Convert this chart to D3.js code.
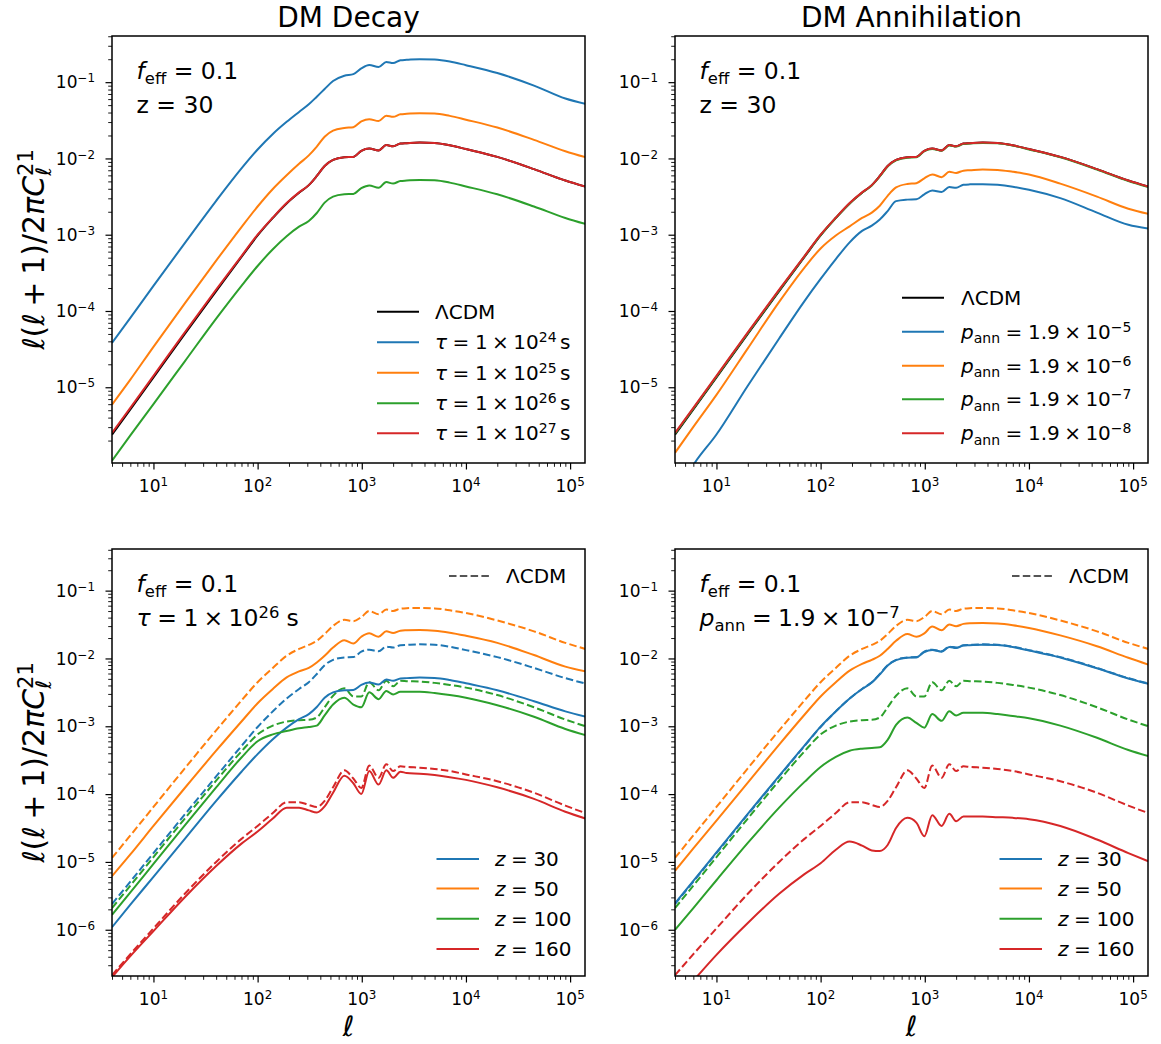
<!DOCTYPE html>
<html>
<head>
<meta charset="utf-8">
<script src="https://cdn.jsdelivr.net/npm/d3@7"></script>
<style>
  body { margin: 0; background: #fff; }
  text { font-family: "DejaVu Sans", sans-serif; fill: #000; }
</style>
</head>
<body>
<svg id="fig" width="1161" height="1044"></svg>
<script>
// multipoles shared by every curve
var ell = [4, 6, 10, 20, 40, 70, 100, 140, 190, 250, 310, 370, 440, 530, 680, 830, 990,
           1180, 1450, 1720, 2000, 2350, 2700, 3600, 5000, 7000, 10000, 20000, 45000, 90000, 140000];

// log10 of l(l+1)C_l/2pi
var lcdmZ30 = [-5.62, -5.29, -4.87, -4.30, -3.74, -3.29, -3.01, -2.78, -2.59, -2.45, -2.35, -2.23, -2.10, -2.02, -1.985, -1.98, -1.90,
               -1.87, -1.895, -1.825, -1.84, -1.805, -1.80, -1.792, -1.797, -1.827, -1.877, -1.98, -2.14, -2.29, -2.37];
var lcdmZ50 = [-4.94, -4.61, -4.19, -3.62, -3.06, -2.62, -2.35, -2.14, -1.96, -1.86, -1.80, -1.74, -1.64, -1.52, -1.43, -1.45, -1.39,
               -1.30, -1.35, -1.28, -1.30, -1.265, -1.258, -1.255, -1.262, -1.29, -1.33, -1.44, -1.60, -1.77, -1.86];
var lcdmZ100 = [-5.68, -5.35, -4.93, -4.36, -3.80, -3.37, -3.12, -2.99, -2.93, -2.91, -2.905, -2.87, -2.72, -2.55, -2.44, -2.56, -2.56,
                -2.35, -2.47, -2.33, -2.41, -2.33, -2.335, -2.34, -2.36, -2.39, -2.43, -2.54, -2.72, -2.90, -3.0];
var lcdmZ160 = [-6.67, -6.36, -5.98, -5.47, -5.00, -4.66, -4.47, -4.28, -4.12, -4.12, -4.16, -4.19, -4.10, -3.90, -3.65, -3.77, -3.91,
                -3.58, -3.76, -3.56, -3.66, -3.59, -3.60, -3.61, -3.63, -3.66, -3.71, -3.81, -3.98, -4.17, -4.28];

var decayTau24Z30 = [-4.42, -4.09, -3.67, -3.11, -2.556, -2.131, -1.883, -1.679, -1.52, -1.39, -1.29, -1.19, -1.09, -0.985, -0.915, -0.895, -0.82,
                     -0.775, -0.80, -0.735, -0.75, -0.712, -0.707, -0.698, -0.703, -0.729, -0.777, -0.88, -1.045, -1.215, -1.284];
var decayTau25Z30 = [-5.227, -4.90, -4.47, -3.90, -3.34, -2.90, -2.63, -2.40, -2.22, -2.07, -1.96, -1.844, -1.715, -1.635, -1.60, -1.59, -1.515,
                     -1.485, -1.51, -1.44, -1.455, -1.42, -1.415, -1.407, -1.41, -1.442, -1.492, -1.595, -1.756, -1.905, -1.983];
var decayTau26Z30 = [-5.963, -5.63, -5.22, -4.66, -4.10, -3.67, -3.41, -3.19, -3.02, -2.895, -2.82, -2.715, -2.58, -2.50, -2.47, -2.465, -2.39,
                     -2.355, -2.385, -2.31, -2.33, -2.295, -2.29, -2.282, -2.287, -2.317, -2.367, -2.47, -2.63, -2.78, -2.858];
var decayTau27Z30 = [-5.60, -5.27, -4.85, -4.28, -3.72, -3.28, -3.0, -2.775, -2.585, -2.445, -2.35, -2.23, -2.10, -2.02, -1.985, -1.98, -1.90,
                     -1.87, -1.895, -1.825, -1.84, -1.805, -1.80, -1.792, -1.797, -1.827, -1.877, -1.98, -2.14, -2.29, -2.37];
var decayTau26Z50 = [-5.21, -4.89, -4.47, -3.91, -3.36, -2.93, -2.66, -2.45, -2.28, -2.19, -2.14, -2.06, -1.96, -1.84, -1.73, -1.78, -1.68,
                     -1.63, -1.68, -1.60, -1.625, -1.59, -1.585, -1.58, -1.59, -1.62, -1.665, -1.77, -1.95, -2.12, -2.19];
var decayTau26Z100 = [-5.78, -5.45, -5.03, -4.46, -3.90, -3.46, -3.22, -3.12, -3.07, -3.03, -3.01, -2.99, -2.84, -2.68, -2.58, -2.68, -2.72,
                      -2.50, -2.60, -2.48, -2.53, -2.49, -2.49, -2.49, -2.51, -2.54, -2.58, -2.69, -2.86, -3.04, -3.13];
var decayTau26Z160 = [-6.70, -6.39, -6.02, -5.52, -5.06, -4.73, -4.55, -4.36, -4.20, -4.20, -4.24, -4.27, -4.18, -3.98, -3.73, -3.84, -4.00,
                      -3.66, -3.86, -3.65, -3.76, -3.67, -3.69, -3.70, -3.72, -3.75, -3.79, -3.90, -4.07, -4.26, -4.36];

var annP5Z30 = [-6.45, -6.02, -5.62, -4.98, -4.36, -3.87, -3.58, -3.32, -3.10, -2.95, -2.88, -2.80, -2.69, -2.56, -2.54, -2.535, -2.47,
                -2.42, -2.44, -2.375, -2.385, -2.345, -2.34, -2.337, -2.345, -2.37, -2.41, -2.52, -2.71, -2.87, -2.92];
var annP6Z30 = [-5.86, -5.52, -5.10, -4.49, -3.88, -3.43, -3.18, -3.01, -2.89, -2.78, -2.71, -2.62, -2.49, -2.38, -2.335, -2.325, -2.26,
                -2.21, -2.245, -2.175, -2.19, -2.16, -2.155, -2.145, -2.15, -2.175, -2.21, -2.33, -2.50, -2.66, -2.727];
var annP7Z30 = [-5.61, -5.28, -4.86, -4.29, -3.73, -3.285, -3.005, -2.78, -2.59, -2.45, -2.355, -2.235, -2.105, -2.025, -1.99, -1.985, -1.905,
                -1.875, -1.90, -1.83, -1.845, -1.81, -1.805, -1.797, -1.802, -1.832, -1.882, -1.985, -2.145, -2.295, -2.375];
var annP8Z30 = [-5.60, -5.27, -4.85, -4.28, -3.72, -3.28, -3.0, -2.775, -2.585, -2.445, -2.35, -2.23, -2.10, -2.02, -1.985, -1.98, -1.90,
                -1.87, -1.895, -1.825, -1.84, -1.805, -1.80, -1.792, -1.797, -1.827, -1.877, -1.98, -2.14, -2.29, -2.37];
var annP7Z50 = [-5.13, -4.80, -4.39, -3.83, -3.27, -2.83, -2.56, -2.35, -2.18, -2.08, -2.02, -1.96, -1.86, -1.74, -1.64, -1.68, -1.63,
                -1.53, -1.585, -1.50, -1.525, -1.49, -1.48, -1.478, -1.485, -1.51, -1.55, -1.66, -1.82, -1.99, -2.09];
var annP7Z100 = [-6.0, -5.68, -5.27, -4.72, -4.20, -3.82, -3.60, -3.45, -3.36, -3.33, -3.32, -3.31, -3.20, -2.98, -2.87, -2.95, -3.02,
                 -2.82, -2.92, -2.78, -2.84, -2.80, -2.80, -2.80, -2.82, -2.85, -2.88, -2.99, -3.17, -3.35, -3.44];
var annP7Z160 = [-7.05, -6.75, -6.37, -5.90, -5.47, -5.18, -5.02, -4.82, -4.70, -4.76, -4.83, -4.84, -4.75, -4.50, -4.35, -4.42, -4.62,
                 -4.31, -4.47, -4.29, -4.40, -4.33, -4.33, -4.33, -4.34, -4.35, -4.37, -4.47, -4.67, -4.87, -4.99];

// legend / tick text
var tauExps = ['24', '25', '26', '27'];
var pannExps = ['5', '6', '7', '8'];
var zValues = ['30', '50', '100', '160'];
var xTickExps = [1, 2, 3, 4, 5];
var yTickExpsTop = [-1, -2, -3, -4, -5];
var yTickExpsBottom = [-1, -2, -3, -4, -5, -6];

var blue = '#1f77b4', orange = '#ff7f0e', green = '#2ca02c', red = '#d62728';
var W = 473, H = 427;

var svg = d3.select('#fig');
var x = d3.scaleLog().domain([4, 1.39e5]).range([0, W]);

// tiny mathtext: pieces {t, it, sub, sup, pad (em, both sides), dxe (em)}
function rich(g, px, py, parts, size, anchor) {
    var t = g.append('text')
        .attr('x', px)
        .attr('y', py)
        .attr('font-size', size)
        .attr('text-anchor', anchor || 'start');
    var shift = 0, pending = 0;
    parts.forEach(function (p) {
        var target = p.sup ? -0.36 * size : (p.sub ? 0.22 * size : 0);
        var ts = t.append('tspan').text(p.t).attr('dy', target - shift);
        shift = target;
        var d = pending + (p.pad ? p.pad * size : 0) + (p.dxe ? p.dxe * size : 0);
        pending = p.pad ? p.pad * size : 0;
        if (d) ts.attr('dx', d);
        if (p.sup || p.sub) ts.attr('font-size', size * 0.7);
        if (p.it) ts.attr('font-style', 'italic');
    });
    return t;
}

var EQ = {t: '=', pad: 0.278};
var TIMES = {t: '\u00d7', pad: 0.222};

function pow10(e) {
    return [{t: '10'}, {t: (e < 0 ? '\u2212' + (-e) : '' + e), sup: true}];
}

function minorTicks(lo, hi) {
    var out = [];
    for (var e = -8; e <= 6; e++) {
        for (var m = 2; m <= 9; m++) {
            var v = m * Math.pow(10, e);
            if (v >= lo && v <= hi) out.push(v);
        }
    }
    return out;
}

var feff = [{t: 'f', it: 1}, {t: 'eff', sub: 1}, {t: ' = 0.1'}];
var lcdmText = [{t: '\u039bCDM'}];

var panels = [
    {
        id: 'tl', left: 112, top: 36, dom: [1.016e-6, 0.403], yExps: yTickExpsTop, xLabel: false,
        series: [
            {v: lcdmZ30, c: '#000'},
            {v: decayTau24Z30, c: blue},
            {v: decayTau25Z30, c: orange},
            {v: decayTau26Z30, c: green},
            {v: decayTau27Z30, c: red}
        ],
        notes: [feff, [{t: 'z = 30'}]],
        legend: {
            rows: [275.7, 306.3, 336.7, 367.3, 397.3], h0: 265, h1: 307, tx: 323,
            items: [{c: '#000', parts: lcdmText}].concat(tauExps.map(function (e, i) {
                return {c: [blue, orange, green, red][i],
                        parts: [{t: '\u03c4', it: 1}, EQ, {t: '1'}, TIMES, {t: '10'}, {t: e, sup: 1}, {t: 's', dxe: 0.17}]};
            }))
        }
    },
    {
        id: 'tr', left: 675, top: 36, dom: [1.016e-6, 0.403], yExps: yTickExpsTop, xLabel: false,
        series: [
            {v: lcdmZ30, c: '#000'},
            {v: annP5Z30, c: blue},
            {v: annP6Z30, c: orange},
            {v: annP7Z30, c: green},
            {v: annP8Z30, c: red}
        ],
        notes: [feff, [{t: 'z = 30'}]],
        legend: {
            rows: [261.7, 295.7, 329.7, 363.3, 397.3], h0: 227, h1: 269, tx: 286,
            items: [{c: '#000', parts: lcdmText}].concat(pannExps.map(function (e, i) {
                return {c: [blue, orange, green, red][i],
                        parts: [{t: 'p', it: 1}, {t: 'ann', sub: 1}, EQ, {t: '1.9'}, TIMES, {t: '10'}, {t: '\u2212' + e, sup: 1}]};
            }))
        }
    },
    {
        id: 'bl', left: 112, top: 549, dom: [2.08e-7, 0.411], yExps: yTickExpsBottom, xLabel: true,
        series: [
            {v: lcdmZ30, c: blue, dash: 1},
            {v: lcdmZ50, c: orange, dash: 1},
            {v: lcdmZ100, c: green, dash: 1},
            {v: lcdmZ160, c: red, dash: 1},
            {v: decayTau26Z30, c: blue},
            {v: decayTau26Z50, c: orange},
            {v: decayTau26Z100, c: green},
            {v: decayTau26Z160, c: red}
        ],
        notes: [feff, [{t: '\u03c4', it: 1}, EQ, {t: '1'}, TIMES, {t: '10'}, {t: '26', sup: 1}, {t: 's', dxe: 0.3}]]
    },
    {
        id: 'br', left: 675, top: 549, dom: [2.08e-7, 0.411], yExps: yTickExpsBottom, xLabel: true,
        series: [
            {v: lcdmZ30, c: blue, dash: 1},
            {v: lcdmZ50, c: orange, dash: 1},
            {v: lcdmZ100, c: green, dash: 1},
            {v: lcdmZ160, c: red, dash: 1},
            {v: annP7Z30, c: blue},
            {v: annP7Z50, c: orange},
            {v: annP7Z100, c: green},
            {v: annP7Z160, c: red}
        ],
        notes: [feff, [{t: 'p', it: 1}, {t: 'ann', sub: 1}, EQ, {t: '1.9'}, TIMES, {t: '10'}, {t: '\u22127', sup: 1}]]
    }
];

// z-legend shared by the two lower panels
var zLegend = {
    rows: [310, 339.5, 369.7, 399.9], h0: 324.5, h1: 367, tx: 383,
    items: zValues.map(function (z, i) {
        return {c: [blue, orange, green, red][i], parts: [{t: 'z', it: 1}, EQ, {t: z}]};
    })
};

panels.forEach(function (p) {
    var g = svg.append('g').attr('transform', 'translate(' + p.left + ',' + p.top + ')');
    var y = d3.scaleLog().domain(p.dom).range([H, 0]);

    g.append('clipPath').attr('id', 'clip-' + p.id)
        .append('rect').attr('width', W).attr('height', H);

    var line = d3.line()
        .x(function (d, i) { return x(ell[i]); })
        .y(function (d) { return y(Math.pow(10, d)); })
        .curve(d3.curveMonotoneX);

    var plot = g.append('g').attr('clip-path', 'url(#clip-' + p.id + ')');
    p.series.forEach(function (s) {
        plot.append('path')
            .attr('d', line(s.v))
            .attr('fill', 'none')
            .attr('stroke', s.c)
            .attr('stroke-width', 2)
            .attr('stroke-dasharray', s.dash ? '7.5,3.3' : null);
    });

    // ticks
    var xMinor = g.append('g').attr('transform', 'translate(0,' + H + ')')
        .call(d3.axisBottom(x).tickValues(minorTicks(4, 1.39e5)).tickSize(3.8).tickFormat(''));
    var xMajor = g.append('g').attr('transform', 'translate(0,' + H + ')')
        .call(d3.axisBottom(x).tickValues(xTickExps.map(function (e) { return Math.pow(10, e); })).tickSize(6.5).tickFormat(''));
    var yMinor = g.append('g')
        .call(d3.axisLeft(y).tickValues(minorTicks(p.dom[0], p.dom[1])).tickSize(3.8).tickFormat(''));
    var yMajor = g.append('g')
        .call(d3.axisLeft(y).tickValues(p.yExps.map(function (e) { return Math.pow(10, e); })).tickSize(6.5).tickFormat(''));
    [xMinor, xMajor, yMinor, yMajor].forEach(function (a) {
        a.select('.domain').remove();
    });
    [xMinor, yMinor].forEach(function (a) {
        a.selectAll('line').attr('stroke', '#000').attr('stroke-width', 0.9);
    });
    [xMajor, yMajor].forEach(function (a) {
        a.selectAll('line').attr('stroke', '#000').attr('stroke-width', 1.2);
    });

    xTickExps.forEach(function (e) {
        rich(g, x(Math.pow(10, e)), H + 29, pow10(e), 17, 'middle');
    });
    p.yExps.forEach(function (e) {
        rich(g, -17, y(Math.pow(10, e)) + 6.2, pow10(e), 17, 'end');
    });

    g.append('rect')
        .attr('width', W).attr('height', H)
        .attr('fill', 'none').attr('stroke', '#000').attr('stroke-width', 1.5);

    rich(g, 24.5, 42.5, p.notes[0], 23.5);
    rich(g, 24.5, 77.3, p.notes[1], 23.5);

    var leg = p.legend || zLegend;
    leg.items.forEach(function (it, i) {
        var ry = leg.rows[i];
        g.append('line')
            .attr('x1', leg.h0).attr('x2', leg.h1).attr('y1', ry).attr('y2', ry)
            .attr('stroke', it.c).attr('stroke-width', 2);
        rich(g, leg.tx, ry + 7, it.parts, 20);
    });
    if (!p.legend) {
        g.append('line')
            .attr('x1', 337).attr('x2', 377).attr('y1', 27).attr('y2', 27)
            .attr('stroke', '#555').attr('stroke-width', 2).attr('stroke-dasharray', '7.5,3.3');
        rich(g, 394, 34, lcdmText, 20);
    }

    // axis labels
    if (p.left < 300) {
        var yl = svg.append('g').attr('transform', 'translate(44,' + (p.top + H / 2) + ') rotate(-90)');
        rich(yl, 0, 0, [{t: '\u2113', it: 1}, {t: '('}, {t: '\u2113', it: 1}, {t: '+', pad: 0.222}, {t: '1)/2'},
                        {t: '\u03c0', it: 1}, {t: 'C', it: 1}, {t: '\u2113', it: 1, sub: 1},
                        {t: '21', sup: 1, dxe: -0.29}], 30, 'middle');
    }
    if (p.xLabel) {
        rich(svg, p.left + W / 2, 1036, [{t: '\u2113', it: 1}], 28, 'middle');
    }
});

svg.append('text').attr('x', 112 + W / 2).attr('y', 27).attr('font-size', 28)
    .attr('text-anchor', 'middle').text('DM Decay');
svg.append('text').attr('x', 675 + W / 2).attr('y', 27).attr('font-size', 28)
    .attr('text-anchor', 'middle').text('DM Annihilation');
</script>
</body>
</html>
